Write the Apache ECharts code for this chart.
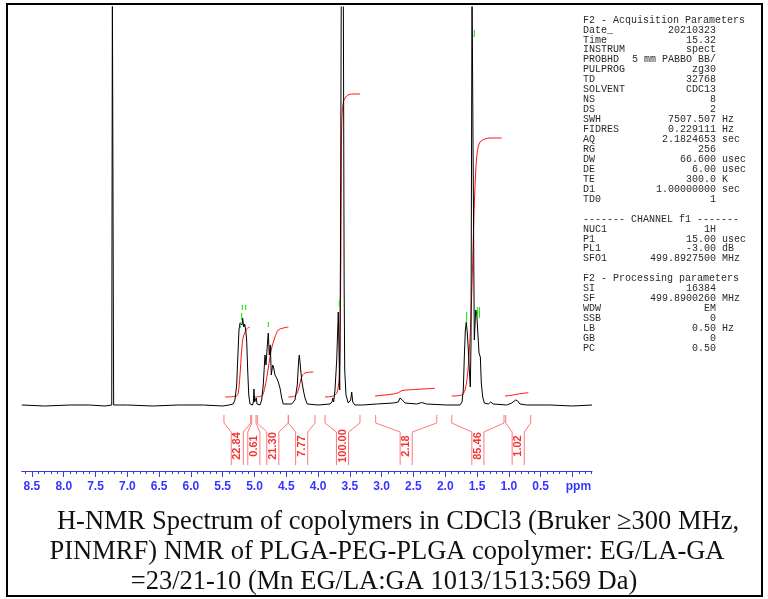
<!DOCTYPE html>
<html><head><meta charset="utf-8">
<script src="https://cdn.jsdelivr.net/npm/echarts@6/dist/echarts.min.js"></script>
<style>html,body{margin:0;padding:0;background:#fff}#c{width:768px;height:599px}</style>
</head><body><div id="c"></div><script>
// ---- DATA (ppm, intensity) ----
const spectrum = [[8.66,0],[8.3,-1],[7.9,0],[7.6,0],[7.35,-1],[7.245,0],[7.235,420],[7.225,420],[7.215,0],[7.0,0],[6.6,-1],[6.2,0],[5.8,0],[5.5,-1],[5.40,0],[5.335,1],[5.307,5],[5.28,20],[5.264,45],[5.244,75],[5.228,82],[5.212,83],[5.196,80],[5.186,87],[5.17,78],[5.154,81],[5.138,75],[5.123,65],[5.107,35],[5.09,10],[5.07,1],[5.03,0],[5.018,3],[5.008,16],[4.998,3],[4.985,2],[4.972,7],[4.96,1],[4.914,0],[4.887,5],[4.862,20],[4.835,50],[4.819,40],[4.798,60],[4.783,72],[4.767,50],[4.751,60],[4.736,30],[4.714,40],[4.698,37],[4.677,30],[4.651,27],[4.626,23],[4.599,17],[4.572,7],[4.547,1],[4.415,1],[4.363,5],[4.327,20],[4.305,45],[4.295,50],[4.28,40],[4.258,25],[4.232,15],[4.206,7],[4.17,1],[4.0,0],[3.813,1],[3.78,3],[3.77,7],[3.755,3],[3.734,15],[3.707,45],[3.682,93],[3.672,60],[3.66,15],[3.648,150],[3.635,420],[3.603,420],[3.59,120],[3.581,35],[3.561,10],[3.525,2],[3.487,5],[3.471,13],[3.455,3],[3.42,0],[3.3,0],[3.078,1],[2.817,2],[2.738,3],[2.712,7],[2.696,9],[2.675,5],[2.633,2],[2.449,1],[2.37,2.5],[2.292,1],[1.977,0],[1.768,0],[1.736,3],[1.716,15],[1.70,48],[1.684,75],[1.669,83],[1.653,72],[1.637,55],[1.621,35],[1.606,18],[1.595,60],[1.579,420],[1.552,420],[1.543,65],[1.521,95],[1.505,92],[1.49,75],[1.469,52],[1.448,48],[1.433,22],[1.411,8],[1.385,2],[1.322,1],[1.285,3],[1.244,1],[1.033,0],[0.955,2],[0.929,3],[0.892,5],[0.875,3.5],[0.86,4],[0.824,1],[0.719,0],[0.352,0],[0.0,-1],[-0.308,0]];

const integral1 = [[5.464,8],[5.28,9],[5.255,12],[5.228,30],[5.201,55],[5.176,68],[5.123,76],[5.071,78]];
const integral2 = [[5.019,8],[4.887,9],[4.835,18],[4.783,37],[4.73,57],[4.677,68],[4.626,75],[4.547,77],[4.468,78]];
const integral3 = [[4.468,8],[4.363,9],[4.311,15],[4.258,28],[4.206,32],[4.075,33]];
const integral4 = [[3.891,8],[3.76,9],[3.707,12],[3.682,18],[3.66,40],[3.645,120],[3.635,220],[3.628,280],[3.603,303],[3.55,309],[3.471,311],[3.341,311]];
const integral5 = [[3.105,9],[2.817,11],[2.738,12.3],[2.685,14.3],[2.606,15],[2.161,16.7]];
const integral6 = [[1.899,9],[1.741,10],[1.689,15],[1.647,32],[1.621,55],[1.60,82],[1.579,120],[1.559,165],[1.543,200],[1.521,233],[1.496,253],[1.453,263],[1.375,266],[1.296,267],[1.112,267]];
const integral7 = [[1.06,9],[0.93,10],[0.851,11],[0.694,12.3]];

const integralRanges = [[5.480,5.060],[5.044,4.976],[4.956,4.468],[4.468,4.048],[3.891,3.341],[3.094,2.134],[1.898,1.076],[1.049,0.656]];
const integralValues = ['22.84','0.61','21.30','7.77','100.00','2.18','85.46','1.02'];

const peakMarks = [[5.223,77,83],[5.201,85,92],[5.192,95,100],[5.138,95,100],[4.783,78,83],[3.666,98,105],[1.663,82,93],[1.543,368,375],[1.496,87,98],[1.464,87,98]];

const majorTickLabels = [8.5,8.0,7.5,7.0,6.5,6.0,5.5,5.0,4.5,4.0,3.5,3.0,2.5,2.0,1.5,1.0,0.5,0.0];

const acqParams = [['Date_','20210323',''],['Time','15.32',''],['INSTRUM','spect',''],['PROBHD','5 mm PABBO BB/',''],['PULPROG','zg30',''],['TD','32768',''],['SOLVENT','CDC13',''],['NS','8',''],['DS','2',''],['SWH','7507.507','Hz'],['FIDRES','0.229111','Hz'],['AQ','2.1824653','sec'],['RG','256',''],['DW','66.600','usec'],['DE','6.00','usec'],['TE','300.0','K'],['D1','1.00000000','sec'],['TD0','1','']];
const chanParams = [['NUC1','1H',''],['P1','15.00','usec'],['PL1','-3.00','dB'],['SFO1','499.8927500','MHz']];
const procParams = [['SI','16384',''],['SF','499.8900260','MHz'],['WDW','EM',''],['SSB','0',''],['LB','0.50','Hz'],['GB','0',''],['PC','0.50','']];
const captionLines = ['H-NMR Spectrum of copolymers in CDCl3 (Bruker \u2265300 MHz,','PINMRF) NMR of PLGA-PEG-PLGA copolymer: EG/LA-GA','=23/21-10 (Mn EG/LA:GA 1013/1513:569 Da)'];

// ---- build ----
const minorTicks = [];
for (let i = -3; i <= 86; i++) minorTicks.push(Math.round(i) / 10);

const B_TOP = -10, B_KNEE = -18, B_IN = -27, B_BOT = -60, HALF = 0.095;
const bracketData = [];
const labelPts = [];
integralRanges.forEach(([a, b]) => {
  const c = (a + b) / 2;
  bracketData.push([a, B_TOP], [a, B_KNEE], [c + HALF, B_IN], [c + HALF, B_BOT], [c, '-']);
  bracketData.push([b, B_TOP], [b, B_KNEE], [c - HALF, B_IN], [c - HALF, B_BOT], [c, '-']);
  labelPts.push([c, -41]);
});
const markData = [];
peakMarks.forEach(([p, lo, hi]) => { markData.push([p, lo], [p, hi], [p, '-']); });

const integralSeries = [integral1, integral2, integral3, integral4, integral5, integral6, integral7].map(d => ({
  type: 'line', data: d, showSymbol: false, smooth: 0.3, lineStyle: {color: '#ff1010', width: 1}, z: 3
}));

const graphics = [];
graphics.push({type: 'rect', shape: {x: 7, y: 4, width: 755, height: 592}, style: {fill: 'none', stroke: '#000', lineWidth: 2}});
const MONO = '10px "Liberation Mono", monospace';
const PCOL = '#2a2a2a';
const rowY = i => 20 + i * 9.95;
function header(t, row) {
  graphics.push({type: 'text', x: 583, y: rowY(row), style: {text: t, font: MONO, fill: PCOL, align: 'left', verticalAlign: 'middle'}});
}
function params(list, startRow) {
  list.forEach(([l, v, u], k) => {
    const y = rowY(startRow + k);
    graphics.push({type: 'text', x: 583, y, style: {text: l, font: MONO, fill: PCOL, align: 'left', verticalAlign: 'middle'}});
    graphics.push({type: 'text', x: 716, y, style: {text: v, font: MONO, fill: PCOL, align: 'right', verticalAlign: 'middle'}});
    if (u) graphics.push({type: 'text', x: 722, y, style: {text: u, font: MONO, fill: PCOL, align: 'left', verticalAlign: 'middle'}});
  });
}
header('F2 - Acquisition Parameters', 0);
params(acqParams, 1);
header('------- CHANNEL f1 -------', 20);
params(chanParams, 21);
header('F2 - Processing parameters', 26);
params(procParams, 27);
const captionX = [398, 387, 384];
captionLines.forEach((t, i) => {
  graphics.push({type: 'text', x: captionX[i], y: 522 + i * 30, style: {text: t, font: '26.5px "Liberation Serif", serif', fill: '#111', align: 'center', verticalAlign: 'middle'}});
});

const BLUE = '#3535ff';
const chart = echarts.init(document.getElementById('c'));
chart.setOption({
  animation: false,
  backgroundColor: '#fff',
  grid: {left: 21.7, right: 176, top: 7, bottom: 128, outerBoundsMode: 'none'},
  xAxis: [{
    type: 'value', min: -0.308, max: 8.661, inverse: true, position: 'bottom',
    axisLine: {show: true, onZero: false, lineStyle: {color: BLUE, width: 1}},
    axisTick: {show: true, customValues: majorTickLabels, length: 6, lineStyle: {color: BLUE, width: 1}},
    axisLabel: {show: true, customValues: majorTickLabels, margin: 10, color: BLUE, fontWeight: 'bold', fontSize: 12, fontFamily: '"Liberation Sans", Arial, sans-serif',
      formatter: v => Math.abs(v) < 1e-9 ? '{p|ppm}' : v.toFixed(1),
      rich: {p: {color: BLUE, fontWeight: 'bold', fontSize: 12, fontFamily: '"Liberation Sans", Arial, sans-serif', padding: [0, 0, 0, 12]}}},
    splitLine: {show: false}
  }, {
    type: 'value', min: -0.308, max: 8.661, inverse: true, position: 'bottom', gridIndex: 0,
    axisLine: {show: false, onZero: false},
    axisTick: {show: true, customValues: minorTicks, length: 3, lineStyle: {color: BLUE, width: 1}},
    axisLabel: {show: false}, splitLine: {show: false}
  }],
  yAxis: {type: 'value', min: -66, max: 398, show: false, splitLine: {show: false}},
  series: [
    {type: 'line', data: spectrum, showSymbol: false, lineStyle: {color: '#000', width: 1}, z: 4},
    ...integralSeries,
    {type: 'line', data: markData, showSymbol: false, connectNulls: false, lineStyle: {color: '#00e000', width: 1}, z: 5},
    {type: 'line', data: bracketData, showSymbol: false, connectNulls: false, lineStyle: {color: '#ff7878', width: 1}, z: 2},
    {type: 'scatter', data: labelPts, symbolSize: 1, itemStyle: {color: 'rgba(0,0,0,0)'}, z: 6,
      label: {show: true, position: 'inside', rotate: 90, color: '#ee0000', fontSize: 11, fontWeight: 'bold', fontFamily: '"Liberation Sans", Arial, sans-serif',
        formatter: p => integralValues[p.dataIndex]}}
  ],
  graphic: graphics
});
</script></body></html>
